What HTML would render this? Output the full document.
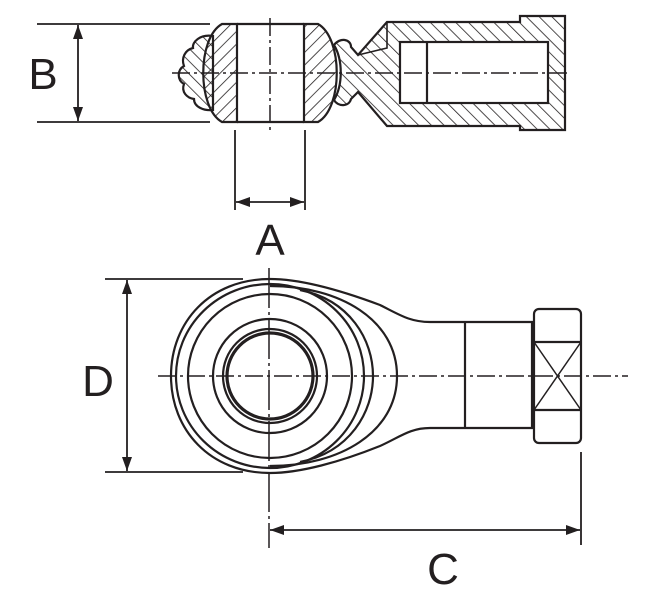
<!DOCTYPE html>
<html><head><style>html,body{margin:0;padding:0;background:#fff}svg{display:block}</style></head>
<body>
<svg width="648" height="602" viewBox="0 0 648 602" xmlns="http://www.w3.org/2000/svg">
<defs>
<pattern id="h" patternUnits="userSpaceOnUse" width="9" height="9" patternTransform="rotate(45)">
<line x1="0" y1="0" x2="0" y2="9" stroke="#231f20" stroke-width="1.6"/>
</pattern>
<pattern id="h2" patternUnits="userSpaceOnUse" width="9" height="9" patternTransform="rotate(-45)">
<line x1="0" y1="0" x2="0" y2="9" stroke="#231f20" stroke-width="1.6"/>
</pattern>
<marker id="ar" viewBox="0 0 14 10" refX="14" refY="5" markerWidth="14" markerHeight="10" markerUnits="userSpaceOnUse" orient="auto-start-reverse">
<path d="M0,0 L14,5 L0,10 z" fill="#231f20"/></marker>
</defs>
<g fill="none" stroke="#231f20" stroke-width="2.2">
<!-- ===== TOP VIEW ===== -->
<path d="M213,36 C200,34 192,42 193,48 C185,50 181,58 184,66 C177,70 177,80 184,84 C181,92 187,98 194,99 C194,107 204,111 213,110 Z" fill="url(#h2)"/>
<path d="M237,24 L222,24 C197,38 197,108 222,122 L237,122 Z" fill="url(#h)"/>
<path d="M304,24 L318,24 C343,38 343,108 318,122 L304,122 Z" fill="url(#h)"/>
<line x1="237" y1="24" x2="304" y2="24"/>
<line x1="237" y1="122" x2="304" y2="122"/>
<path d="M334,45 C340,37 351,39 351,47 L358,55 L387,22 L520,22 L520,16 L565,16 L565,130 L520,130 L520,126 L387,126 L358,92 L351,99 C349,107 338,107 334,100 C343,85 343,60 334,45 Z" fill="url(#h2)"/>
<rect x="400" y="42" width="148" height="61" fill="#fff"/>
<line x1="427" y1="42" x2="427" y2="103"/>
<path d="M387,22 L387,48 L358,55" fill="none" stroke-width="1.6"/>
<line x1="172" y1="73" x2="570" y2="73" stroke-width="1.5" stroke-dasharray="18,4,3,4"/>
<line x1="270" y1="18" x2="270" y2="130" stroke-width="1.5" stroke-dasharray="18,4,3,4"/>
<line x1="37" y1="24" x2="210" y2="24" stroke-width="1.8"/>
<line x1="37" y1="122" x2="210" y2="122" stroke-width="1.8"/>
<line x1="78" y1="25" x2="78" y2="121" stroke-width="1.8" marker-start="url(#ar)" marker-end="url(#ar)"/>
<line x1="235" y1="130" x2="235" y2="210" stroke-width="1.8"/>
<line x1="305" y1="130" x2="305" y2="210" stroke-width="1.8"/>
<line x1="236" y1="202" x2="304" y2="202" stroke-width="1.8" marker-start="url(#ar)" marker-end="url(#ar)"/>

<!-- ===== BOTTOM VIEW ===== -->
<path d="M270,279 C300,279 340,290 380,305 C400,315 410,322 430,322 L532,322 L532,428 L430,428 C410,428 400,437 380,446 C340,462 300,473 270,473 C210,473 171,430 171,376 C171,322 210,279 270,279 Z"/>
<ellipse cx="270" cy="376" rx="94" ry="92"/>
<path d="M270,286 C340,286 397,320 397,376 C397,432 340,466 270,466"/>
<circle cx="270" cy="376" r="82"/>
<path d="M300,290 C350,300 373,340 373,376 C373,412 350,452 300,462"/>
<circle cx="270" cy="376" r="57"/>
<circle cx="270" cy="376" r="47"/>
<circle cx="270" cy="376" r="43" stroke-width="3.2"/>
<line x1="465" y1="322" x2="465" y2="428"/>
<rect x="534" y="309" width="47" height="134" rx="5"/>
<line x1="534" y1="342" x2="581" y2="342"/>
<line x1="534" y1="410" x2="581" y2="410"/>
<line x1="534" y1="342" x2="581" y2="410" stroke-width="1.5"/>
<line x1="581" y1="342" x2="534" y2="410" stroke-width="1.5"/>
<line x1="158" y1="376" x2="628" y2="376" stroke-width="1.5" stroke-dasharray="18,4,3,4"/>
<line x1="269" y1="268" x2="269" y2="548" stroke-width="1.5" stroke-dasharray="40,4,3,4"/>
<line x1="105" y1="279" x2="243" y2="279" stroke-width="1.8"/>
<line x1="105" y1="472" x2="243" y2="472" stroke-width="1.8"/>
<line x1="127" y1="280" x2="127" y2="471" stroke-width="1.8" marker-start="url(#ar)" marker-end="url(#ar)"/>
<line x1="581" y1="452" x2="581" y2="545" stroke-width="1.8"/>
<line x1="270" y1="530" x2="580" y2="530" stroke-width="1.8" marker-start="url(#ar)" marker-end="url(#ar)"/>
</g>
<g font-family="Liberation Sans, sans-serif" font-size="44" fill="#231f20" text-anchor="middle">
<text x="43" y="89">B</text>
<text x="270" y="255">A</text>
<text x="98" y="396">D</text>
<text x="443" y="584">C</text>
</g>
</svg>
</body></html>
